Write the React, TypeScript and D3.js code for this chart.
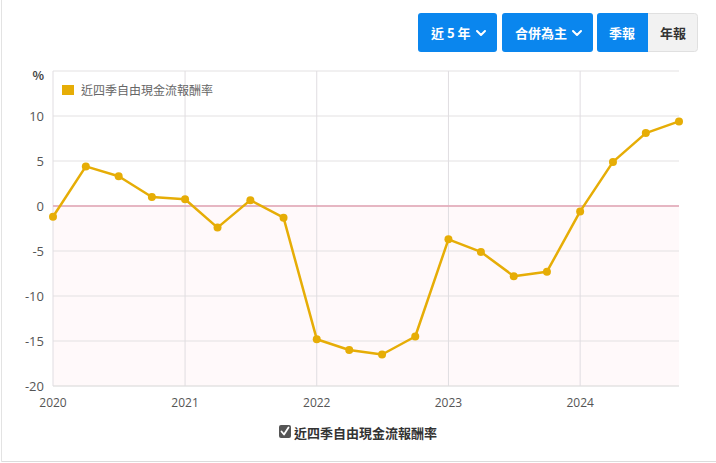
import React from 'react';
import * as d3 from 'd3';

// quarterly dates and trailing-four-quarter FCF yield (%)
const quarters = [
  '2020-01-01', '2020-04-01', '2020-07-01', '2020-10-01',
  '2021-01-01', '2021-04-01', '2021-07-01', '2021-10-01',
  '2022-01-01', '2022-04-01', '2022-07-01', '2022-10-01',
  '2023-01-01', '2023-04-01', '2023-07-01', '2023-10-01',
  '2024-01-01', '2024-04-01', '2024-07-01', '2024-10-01',
];
const fcfYield = [
  -1.2, 4.4, 3.3, 1.0,
  0.75, -2.4, 0.65, -1.3,
  -14.8, -16.0, -16.5, -14.5,
  -3.7, -5.1, -7.8, -7.3,
  -0.6, 4.9, 8.1, 9.4,
];
const yTicks = [-20, -15, -10, -5, 0, 5, 10];
const xTickYears = [2020, 2021, 2022, 2023, 2024];
const seriesName = '近四季自由現金流報酬率';

const W = 716;
const H = 463;
const margin = { top: 71, right: 37, bottom: 77, left: 53 };
const font = '"Noto Sans CJK TC", "Noto Sans", sans-serif';
const numFont = '"Open Sans", "Noto Sans", sans-serif';
const lineColor = '#e6ad06';
const blue = '#0a86ee';

const App: React.FC = () => {
  const parse = d3.timeParse('%Y-%m-%d');
  const dates = quarters.map(q => parse(q) as Date);
  const data = dates.map((d, i) => ({ date: d, value: fcfYield[i] }));

  const x = d3.scaleTime()
    .domain([dates[0], dates[dates.length - 1]])
    .range([margin.left, W - margin.right]);
  const y = d3.scaleLinear()
    .domain([-20, 15])
    .range([H - margin.bottom, margin.top]);

  const line = d3.line<{ date: Date; value: number }>()
    .x(d => x(d.date))
    .y(d => y(d.value));

  const x0 = x.range()[0];
  const x1 = x.range()[1];
  const gridTop = y(15);

  // header buttons
  const buttons = [
    { label: '近 5 年', x: 418, w: 79 },
    { label: '合併為主', x: 502, w: 91 },
  ];

  return (
    <svg width={W} height={H} style={{ position: 'absolute', left: 0, top: 0, fontFamily: font }}>
      <rect x={0} y={0} width={W} height={H} fill="#fff" />
      {/* card border */}
      <line x1={1.5} x2={1.5} y1={0} y2={461.5} stroke="#e3e3e3" />
      <line x1={1.5} x2={W} y1={461.5} y2={461.5} stroke="#dcdcdc" />

      {/* buttons */}
      {buttons.map(b => (
        <g key={b.label}>
          <rect x={b.x} y={13} width={b.w} height={39} rx={3} fill={blue} />
          <text x={b.x + 13} y={37.5} fill="#fff" fontSize={13} fontWeight="bold">{b.label}</text>
          <path
            d={`M${b.x + b.w - 20},${31} l4,4 l4,-4`}
            fill="none" stroke="#fff" strokeWidth={2} strokeLinecap="round" strokeLinejoin="round"
          />
        </g>
      ))}
      <rect x={597.5} y={13.5} width={100} height={38} rx={3} fill="#f2f2f2" stroke="#e0e0e0" />
      <path d="M600,13 h48 v39 h-48 a3,3 0 0 1 -3,-3 v-33 a3,3 0 0 1 3,-3 z" fill={blue} />
      <text x={622} y={37.5} fill="#fff" fontSize={13} fontWeight="bold" textAnchor="middle">季報</text>
      <text x={673} y={37.5} fill="#333" fontSize={13} fontWeight="bold" textAnchor="middle">年報</text>

      {/* negative area shading */}
      <rect x={x0} y={y(0)} width={x1 - x0} height={y(-20) - y(0)} fill="#fff9fa" />

      {/* horizontal grid */}
      {[...yTicks, 15].map(t => (
        <line key={t} x1={x0} x2={x1} y1={y(t)} y2={y(t)} stroke={t === -20 ? '#d6d6d6' : '#e3e1e2'} />
      ))}
      {/* vertical grid */}
      {xTickYears.map(yr => {
        const px = x(new Date(yr, 0, 1));
        return <line key={yr} x1={px} x2={px} y1={gridTop} y2={y(-20)} stroke="#e0dde1" />;
      })}
      {/* zero line */}
      <line x1={x0} x2={x1} y1={y(0)} y2={y(0)} stroke="#e2a3b3" strokeWidth={1.5} />

      {/* y tick labels */}
      {yTicks.map(t => (
        <text key={t} x={44} y={y(t) + 5} textAnchor="end" fontSize={13} fill="#555" fontFamily={numFont}>{t}</text>
      ))}
      <text x={44} y={80} textAnchor="end" fontSize={12} fontWeight="bold" fill="#444">%</text>

      {/* x tick labels */}
      {xTickYears.map(yr => (
        <text key={yr} x={x(new Date(yr, 0, 1))} y={407} textAnchor="middle" fontSize={12} fill="#555" fontFamily={numFont}>{yr}</text>
      ))}

      {/* series */}
      <path d={line(data) ?? ''} fill="none" stroke={lineColor} strokeWidth={2.5} strokeLinejoin="round" />
      {data.map((d, i) => (
        <circle key={i} cx={x(d.date)} cy={y(d.value)} r={4} fill={lineColor} />
      ))}

      {/* inner legend */}
      <rect x={62} y={85} width={12} height={10} fill={lineColor} />
      <text x={81} y={95} fontSize={12} fill="#666">{seriesName}</text>

      {/* bottom legend with checkbox */}
      <rect x={279} y={425} width={12} height={13} rx={2} fill="#555" />
      <path d="M281.5,431.5 l2.5,3 l4.5,-7" fill="none" stroke="#fff" strokeWidth={1.8} strokeLinecap="round" strokeLinejoin="round" />
      <text x={294} y={438} fontSize={13} fontWeight="bold" fill="#333">{seriesName}</text>
    </svg>
  );
};

export default App;
